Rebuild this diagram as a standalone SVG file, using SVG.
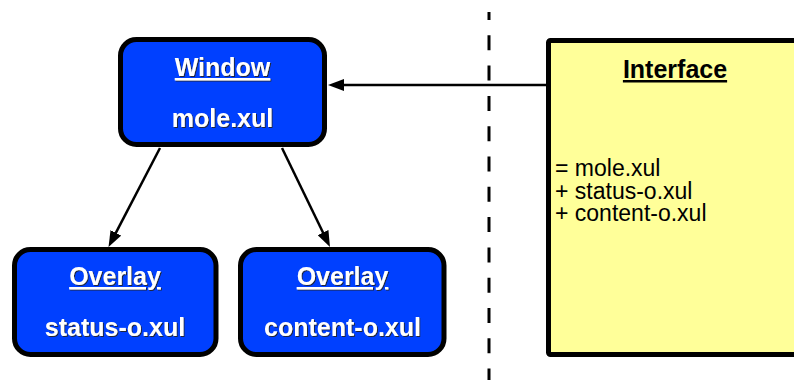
<svg xmlns="http://www.w3.org/2000/svg" width="794" height="380" viewBox="0 0 794 380">
  <defs>
    <style>
      .node { fill: #0040ff; stroke: #000; stroke-width: 5; }
      .iface { fill: #ffff99; stroke: #000; stroke-width: 5; }
      .title { font-family: "Liberation Sans", Arial, sans-serif; font-weight: bold; font-size: 25px; fill: #fff; text-anchor: middle; text-decoration: underline; }
      .label { font-family: "Liberation Sans", Arial, sans-serif; font-weight: bold; font-size: 25px; fill: #fff; text-anchor: middle; }
      .ititle { font-family: "Liberation Sans", Arial, sans-serif; font-weight: bold; font-size: 25px; fill: #000; text-anchor: middle; text-decoration: underline; }
      .body { font-family: "Liberation Sans", Arial, sans-serif; font-size: 23px; fill: #000; }
      .edge { stroke: #000; stroke-width: 2.5; fill: none; marker-end: url(#arrow); }
      .sep { stroke: #000; stroke-width: 3; stroke-dasharray: 15 15.3; stroke-dashoffset: 7; }
    </style>
    <filter id="shadow" x="-10%" y="-20%" width="120%" height="150%">
      <feDropShadow dx="1" dy="1" stdDeviation="0.4" flood-color="#222" flood-opacity="0.9"/>
    </filter>
    <marker id="arrow" markerUnits="userSpaceOnUse" markerWidth="16" markerHeight="12" refX="8" refY="6" orient="auto">
      <path d="M0,0 L16,6 L0,12 z" fill="#000"/>
    </marker>
  </defs>

  <!-- vertical dashed separator -->
  <line class="sep" x1="489" y1="12" x2="489" y2="380"/>

  <g id="connectors">
    <line class="edge" x1="546" y1="85" x2="336" y2="85"/>
    <line class="edge" x1="160" y1="148" x2="112.2" y2="239.9"/>
    <line class="edge" x1="282" y1="148" x2="326.5" y2="239.8"/>
  </g>

  <g id="window">
    <rect class="node" x="120.5" y="39.5" width="204" height="105" rx="16"/>
    <g filter="url(#shadow)">
      <text class="title" x="222.5" y="76">Window</text>
      <text class="label" x="222.5" y="127">mole.xul</text>
    </g>
  </g>

  <g id="overlay-status">
    <rect class="node" x="14.5" y="249.5" width="201.5" height="105" rx="16"/>
    <g filter="url(#shadow)">
      <text class="title" x="115" y="285">Overlay</text>
      <text class="label" x="115" y="336">status-o.xul</text>
    </g>
  </g>

  <g id="overlay-content">
    <rect class="node" x="240.5" y="249.5" width="203.5" height="105" rx="16"/>
    <g filter="url(#shadow)">
      <text class="title" x="342.5" y="285">Overlay</text>
      <text class="label" x="342.5" y="336">content-o.xul</text>
    </g>
  </g>

  <g id="interface">
    <rect class="iface" x="548.5" y="40.5" width="300" height="314" rx="2"/>
    <text class="ititle" x="675" y="78">Interface</text>
    <text class="body" x="555" y="176">= mole.xul<tspan x="555" dy="22.5">+ status-o.xul</tspan><tspan x="555" dy="22.5">+ content-o.xul</tspan></text>
  </g>
</svg>
